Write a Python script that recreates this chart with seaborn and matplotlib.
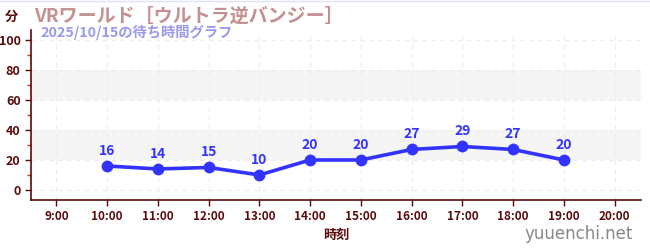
import matplotlib
matplotlib.use("Agg")
import matplotlib.pyplot as plt
import seaborn as sns
import pandas as pd
from matplotlib.ticker import MultipleLocator

hours = [10, 11, 12, 13, 14, 15, 16, 17, 18, 19]
waits = [16, 14, 15, 10, 20, 20, 27, 29, 27, 20]
tick_hours = list(range(9, 21))
tick_labels = [f"{h}:00" for h in tick_hours]
title = "VRワールド［ウルトラ逆バンジー］"
subtitle = "2025/10/15の待ち時間グラフ"

sns.set_theme(style="white")
plt.rcParams['font.family'] = ['Noto Sans CJK JP', 'DejaVu Sans']

df = pd.DataFrame({"hour": hours, "wait": waits})

fig = plt.figure(figsize=(6.5, 2.5), dpi=100)
ax = fig.add_axes([31/650, 0.2, (641-31)/650, 0.68])

axis_col = "#5a0a0a"
line_col = "#3333ff"

# background bands
for lo, hi in [(20, 40), (60, 80)]:
    ax.axhspan(lo, hi, color="#f5f5f5", zorder=0, lw=0)

sns.lineplot(data=df, x="hour", y="wait", ax=ax, color=line_col, lw=2.6,
             marker="o", markersize=8.5, markeredgewidth=0, zorder=3)

for h, w in zip(hours, waits):
    ax.annotate(str(w), (h, w), xytext=(0, 6), textcoords="offset points",
                ha="center", va="bottom", color=line_col, fontsize=10,
                fontweight="bold")

ax.set_xlim(8.5, 20.52)
ax.set_ylim(-6.7, 106.7)
ax.set_xticks(tick_hours)
ax.set_xticklabels(tick_labels)
ax.set_yticks([0, 20, 40, 60, 80, 100])
ax.yaxis.set_minor_locator(MultipleLocator(10))

ax.grid(True, which="major", color="#ececec", ls=(0, (4, 4)), lw=0.8)
ax.set_axisbelow(True)

for s in ["top", "right"]:
    ax.spines[s].set_visible(False)
for s in ["left", "bottom"]:
    ax.spines[s].set_color(axis_col)
    ax.spines[s].set_linewidth(1.2)

ax.tick_params(axis="both", which="major", colors=axis_col, length=4,
               width=1, labelsize=8.5, direction="out", left=True, bottom=True)
ax.tick_params(axis="y", which="minor", colors="#dd2222", length=3,
               width=1, left=True)
ax.tick_params(axis="y", labelsize=9)
for lab in ax.get_xticklabels() + ax.get_yticklabels():
    lab.set_color(axis_col)
    lab.set_fontweight("bold")

ax.set_xlabel("時刻", color=axis_col, fontsize=9.5, fontweight="bold", labelpad=3)
ax.set_ylabel("")

fig.text(5/650, 1-17/250, "分", color=axis_col, fontsize=9.5, fontweight="bold",
         va="center", ha="left")
fig.text(34/650, 1-16/250, title, color="#c49090", fontsize=13.7, fontweight="bold",
         va="center", ha="left")
fig.text(40/650, 1-32/250, subtitle, color="#9999ee", fontsize=10.3, fontweight="bold",
         va="center", ha="left")
fig.text(633/650, 1-234/250, "yuuenchi.net", color="#888888", fontsize=12,
         va="center", ha="right", family=["DejaVu Sans"])
fig.add_artist(plt.Line2D([0, 1], [0.998, 0.998], color="#e0e0f8", lw=1,
                          transform=fig.transFigure))

fig.savefig("out.png", dpi=100)
